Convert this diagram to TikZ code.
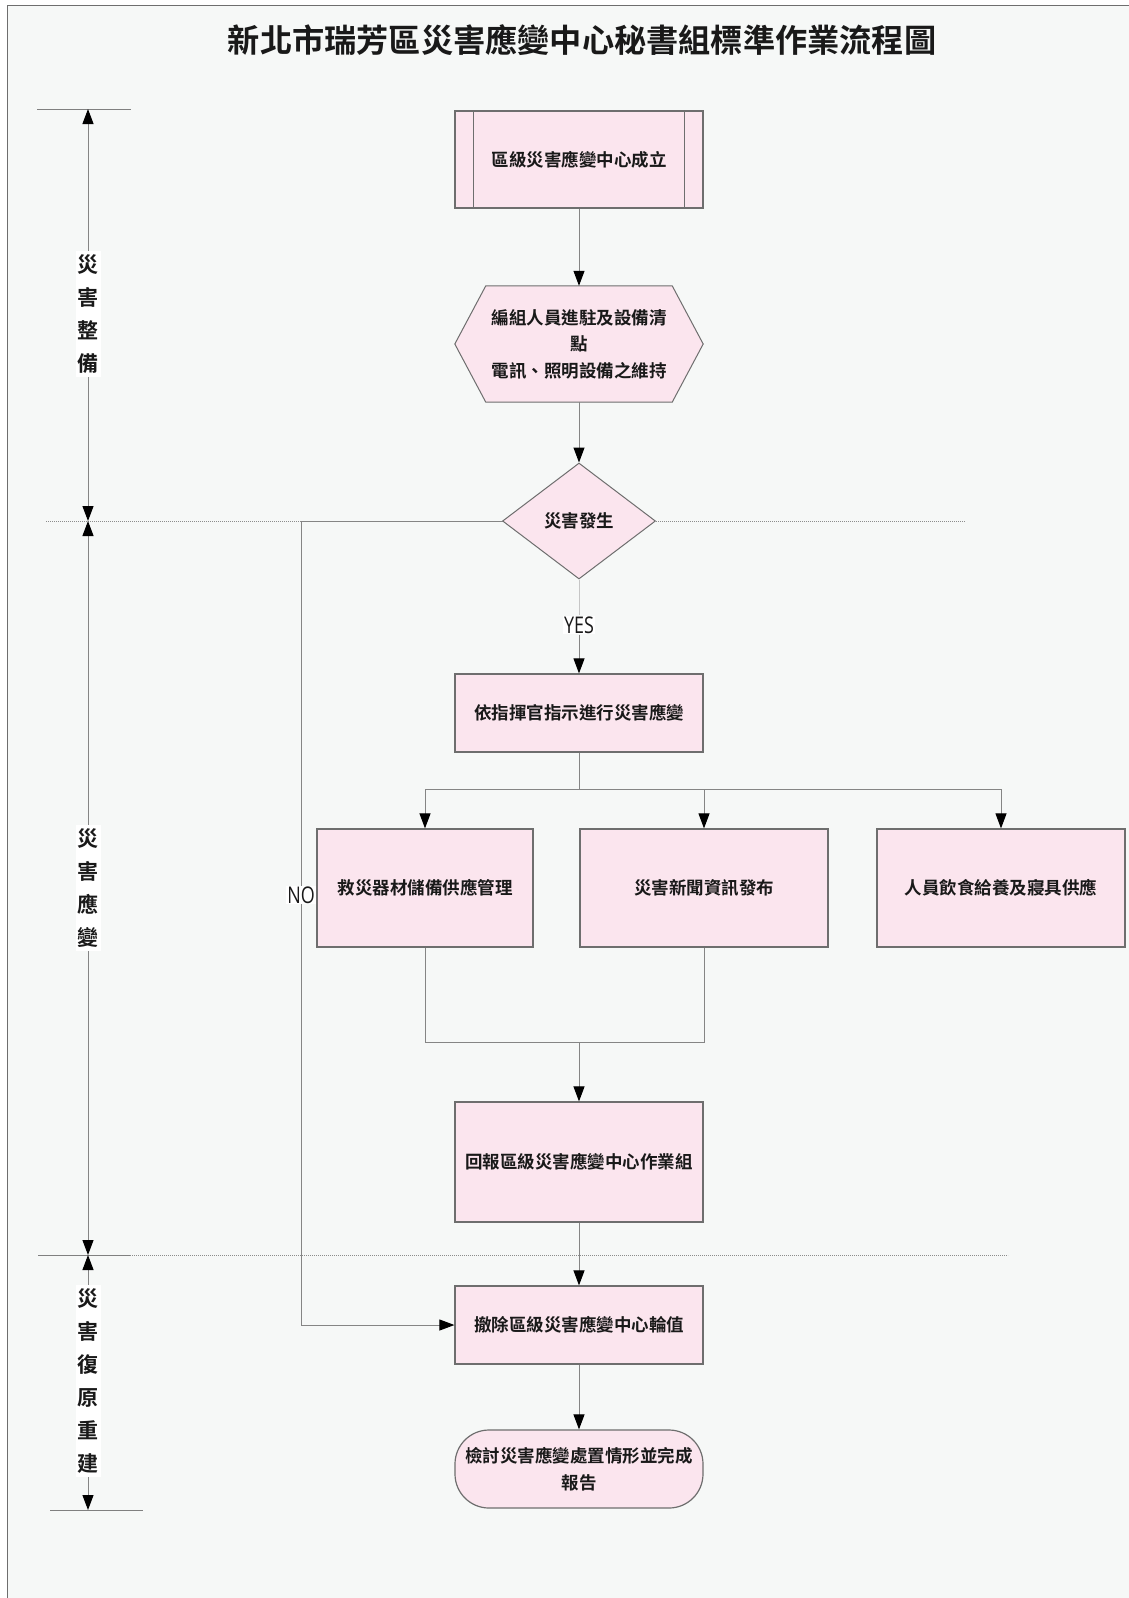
\documentclass[tikz,border=0pt]{standalone}
\usepackage{fontspec}
\newfontfamily\zhfont{Noto Sans CJK TC}[BoldFont={Noto Sans CJK TC Bold}]
\newfontfamily\latfont{Open Sans}[FakeStretch=0.78]
\usetikzlibrary{positioning, arrows.meta, calc, shapes.geometric, backgrounds}

\definecolor{pagebg}{HTML}{F6F8F7}
\definecolor{boxpink}{HTML}{FBE5EE}
\definecolor{linegray}{HTML}{858585}
\definecolor{edgegray}{HTML}{6E6E6E}

\begin{document}
\begin{tikzpicture}[x=1pt, y=-1pt,
    every node/.style={font=\zhfont\bfseries\fontsize{17.5}{26.5}\selectfont, text=black!90},
    proc/.style={draw=edgegray, line width=1.2pt, fill=boxpink, minimum width=248pt,
                 inner sep=0pt, align=center},
    predef/.style={proc, minimum height=97pt},
    hexnode/.style={align=center, minimum width=248pt, minimum height=116pt, inner sep=0pt},
    decision/.style={diamond, draw=edgegray, line width=1pt, fill=boxpink,
                     minimum width=153pt, minimum height=116pt, inner sep=0pt},
    term/.style={proc, rounded corners=34pt, minimum height=78pt},
    line/.style={draw=linegray, line width=1pt},
    flow/.style={line, -{Triangle[length=15pt, width=11pt, color=black]}},
    axis/.style={line, {Triangle[length=15pt, width=11pt, color=black]}-{Triangle[length=15pt, width=11pt, color=black]}},
    phase/.style={fill=white, inner xsep=2pt, inner ysep=4pt, align=center,
                  font=\zhfont\bfseries\fontsize{21}{33}\selectfont},
    answer/.style={fill=white, inner sep=1pt, font=\latfont\fontsize{23}{24}\selectfont},
    sep/.style={draw=gray!90, line width=0.8pt, dash pattern=on 1.2pt off 0.8pt},
    tick/.style={draw=gray, line width=1pt},
]
\useasboundingbox (0,0) rectangle (1129,1598);

% --- Page ------------------------------------------------------------
\begin{scope}[on background layer]
\fill[pagebg] (7,5) rectangle (1129,1598);
\draw[edgegray, line width=1pt] (7,1598) -- (7,5) -- (1129,5);
\end{scope}

\node[font=\zhfont\bfseries\fontsize{32.2}{33}\selectfont] (title) at (582,40)
    {新北市瑞芳區災害應變中心秘書組標準作業流程圖};

% --- Phase separators ------------------------------------------------
\draw[tick] (37,109) -- (131,109);
\draw[sep] (46,521) -- (965,521);
\draw[tick] (38,1255) -- (130,1255);
\draw[sep] (130,1255) -- (1008,1255);
\draw[tick] (50,1510) -- (143,1510);

% --- Phase axis ------------------------------------------------------
\coordinate (pa) at (88,109);
\coordinate (pb) at (88,521);
\coordinate (pc) at (88,1255);
\coordinate (pd) at (88,1510);
\draw[axis] (pa) -- (pb);
\draw[axis] (pb) -- (pc);
\draw[axis] (pc) -- (pd);
\node[phase] (ph1) at (88,314) {災\\害\\整\\備};
\node[phase] (ph2) at (88,888) {災\\害\\應\\變};
\node[phase] (ph3) at (88,1381) {災\\害\\復\\原\\重\\建};

% --- Steps -----------------------------------------------------------
\node[predef] (est) at (579,159.5) {區級災害應變中心成立};
\draw[edgegray, line width=1pt] ($(est.north west)+(19,0)$) -- ($(est.south west)+(19,0)$);
\draw[edgegray, line width=1pt] ($(est.north east)+(-19,0)$) -- ($(est.south east)+(-19,0)$);

\node[hexnode] (prep) at (579,344) {編組人員進駐及設備清\\點\\電訊、照明設備之維持};
\begin{scope}[on background layer]
\filldraw[draw=edgegray, line width=1pt, fill=boxpink]
    ($(prep.north west)+(31,0)$) -- ($(prep.north east)+(-31,0)$) -- (prep.east)
    -- ($(prep.south east)+(-31,0)$) -- ($(prep.south west)+(31,0)$) -- (prep.west) -- cycle;
\end{scope}

\node[decision] (occur) at (579,521) {災害發生};
\node[proc, minimum height=78pt] (command) at (579,713) {依指揮官指示進行災害應變};

\node[proc, minimum width=216pt, minimum height=118pt] (supply) at (425,888) {救災器材儲備供應管理};
\node[proc, minimum height=118pt] (news) at (704,888) {災害新聞資訊發布};
\node[proc, minimum height=118pt] (food) at (1001,888) {人員飲食給養及寢具供應};

\node[proc, minimum height=120pt] (report) at (579,1162) {回報區級災害應變中心作業組};
\node[proc, minimum height=78pt] (dismiss) at (579,1325) {撤除區級災害應變中心輪值};
\node[term] (review) at (579,1469) {檢討災害應變處置情形並完成\\報告};

% --- Connectors ------------------------------------------------------
\draw[flow] (est) -- (prep);
\draw[flow] (prep) -- (occur);

\node[answer] (yes) at (579,625) {YES};
\draw[line, draw=gray!45] (occur) -- (yes);
\draw[flow] (yes) -- (command);

\coordinate (split) at (579,789);
\draw[line] (command) -- (split);
\draw[flow] (split) -| (supply);
\draw[flow] (split) -| (news);
\draw[flow] (split) -| (food);

\coordinate (merge) at (579,1042);
\draw[line] (supply) |- (merge);
\draw[line] (news) |- (merge);
\draw[flow] (merge) -- (report);
\draw[flow] (report) -- (dismiss);
\draw[flow] (dismiss) -- (review);

\coordinate (nobend) at (301,521);
\draw[flow] (occur) -- (nobend) |- (dismiss);
\node[answer] (no) at (301,895) {NO};

\end{tikzpicture}
\end{document}
